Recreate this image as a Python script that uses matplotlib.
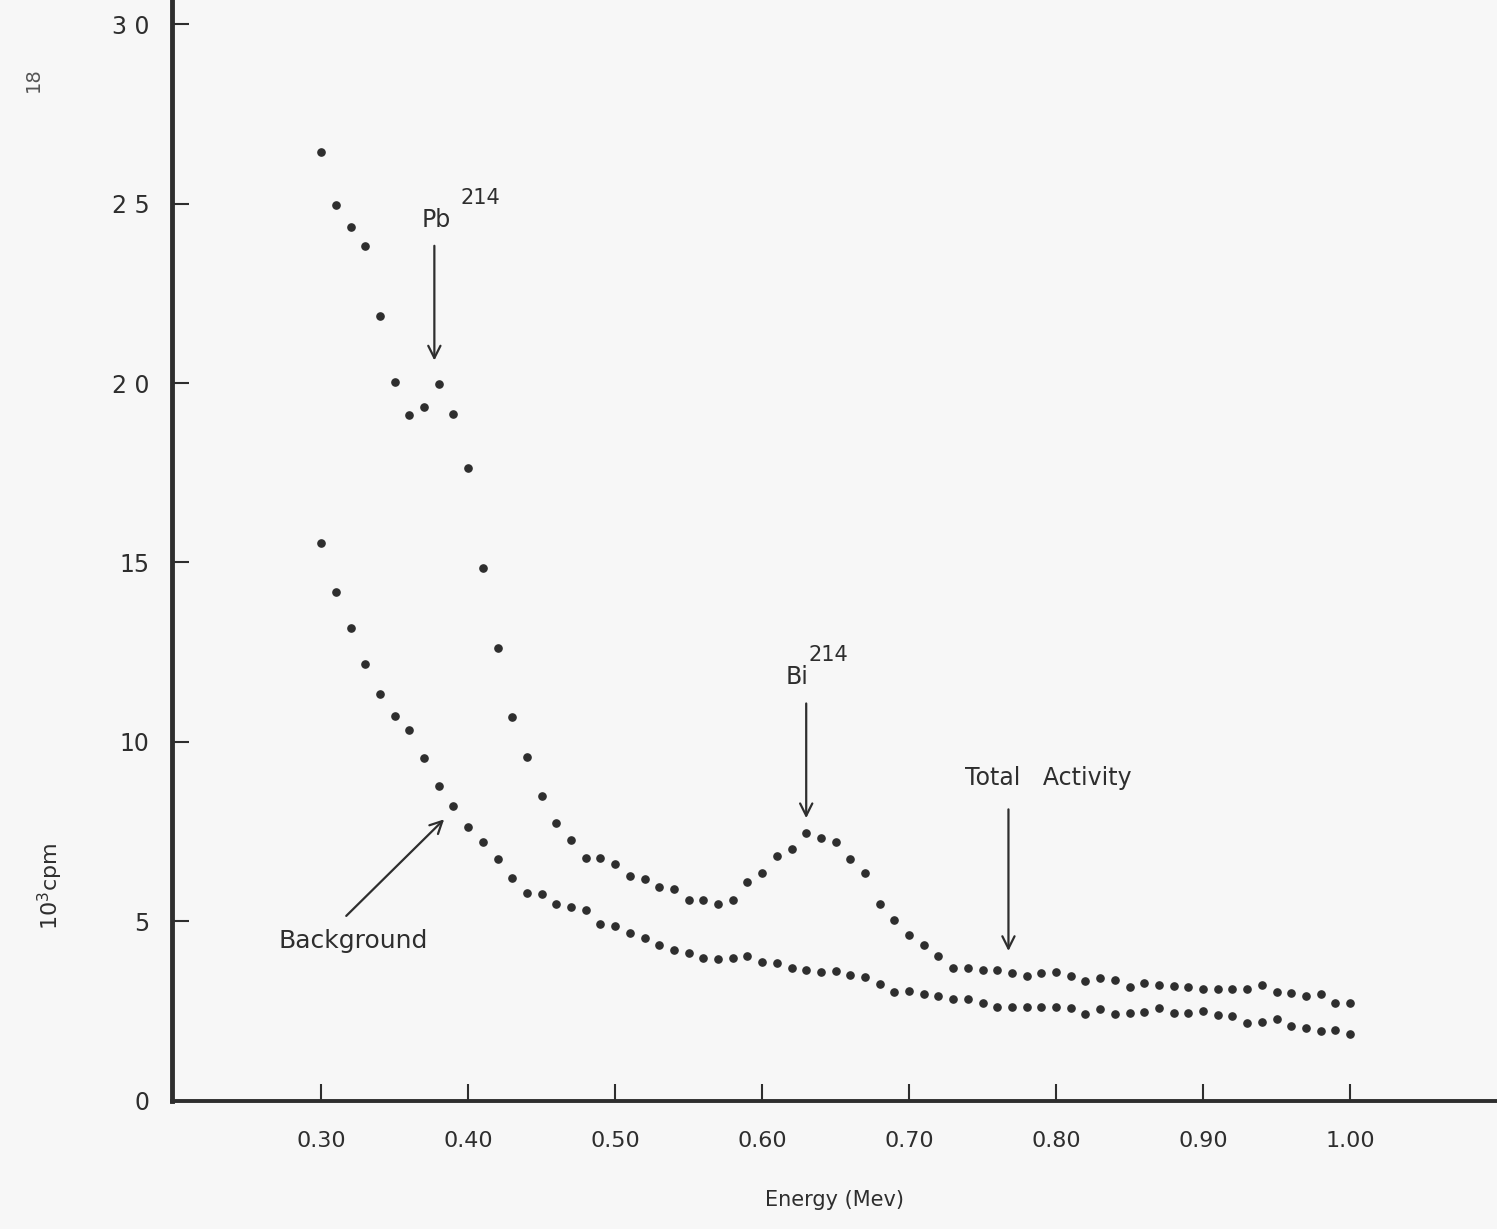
import numpy as np
import matplotlib
matplotlib.use("Agg")
from matplotlib import pyplot as plt

# energy in Mev, one reading every 0.01
energy = [0.30, 0.31, 0.32, 0.33, 0.34, 0.35, 0.36, 0.37, 0.38, 0.39,
          0.40, 0.41, 0.42, 0.43, 0.44, 0.45, 0.46, 0.47, 0.48, 0.49,
          0.50, 0.51, 0.52, 0.53, 0.54, 0.55, 0.56, 0.57, 0.58, 0.59,
          0.60, 0.61, 0.62, 0.63, 0.64, 0.65, 0.66, 0.67, 0.68, 0.69,
          0.70, 0.71, 0.72, 0.73, 0.74, 0.75, 0.76, 0.77, 0.78, 0.79,
          0.80, 0.81, 0.82, 0.83, 0.84, 0.85, 0.86, 0.87, 0.88, 0.89,
          0.90, 0.91, 0.92, 0.93, 0.94, 0.95, 0.96, 0.97, 0.98, 0.99,
          1.00]

# 10^3 cpm
total_activity = [26.43, 24.95, 24.35, 23.82, 21.87, 20.03, 19.11, 19.34, 19.97, 19.14,
                  17.64, 14.84, 12.62, 10.70, 9.57, 8.50, 7.75, 7.27, 6.76, 6.76,
                  6.61, 6.28, 6.19, 5.96, 5.91, 5.60, 5.60, 5.48, 5.60, 6.11,
                  6.36, 6.83, 7.01, 7.46, 7.32, 7.20, 6.75, 6.36, 5.49, 5.04,
                  4.62, 4.35, 4.03, 3.70, 3.70, 3.65, 3.65, 3.56, 3.48, 3.57,
                  3.58, 3.48, 3.35, 3.43, 3.37, 3.18, 3.28, 3.23, 3.21, 3.17,
                  3.13, 3.11, 3.12, 3.12, 3.24, 3.03, 3.01, 2.91, 2.97, 2.72,
                  2.72]

background = [15.53, 14.17, 13.17, 12.17, 11.34, 10.72, 10.33, 9.56, 8.77, 8.22,
              7.64, 7.20, 6.73, 6.22, 5.79, 5.77, 5.48, 5.40, 5.32, 4.93,
              4.86, 4.69, 4.55, 4.35, 4.21, 4.11, 3.99, 3.96, 3.98, 4.04,
              3.88, 3.84, 3.69, 3.66, 3.58, 3.62, 3.50, 3.46, 3.27, 3.04,
              3.07, 2.98, 2.93, 2.83, 2.83, 2.73, 2.63, 2.63, 2.63, 2.63,
              2.61, 2.60, 2.42, 2.56, 2.42, 2.44, 2.48, 2.59, 2.46, 2.46,
              2.50, 2.40, 2.37, 2.17, 2.20, 2.28, 2.08, 2.03, 1.95, 1.98,
              1.87]

xticks = [0.30, 0.40, 0.50, 0.60, 0.70, 0.80, 0.90, 1.00]
xticklabels = ["0.30", "0.40", "0.50", "0.60", "0.70", "0.80", "0.90", "1.00"]
yticks = [0, 5, 10, 15, 20, 25, 30]
yticklabels = ["0", "5", "10", "15", "2 0", "2 5", "3 0"]

ink = "#2e2e2e"
plt.rcParams["font.family"] = ["DejaVu Sans"]

fig = plt.figure(figsize=(14.97, 12.29), dpi=100, facecolor="#f7f7f7")
ax = fig.add_axes([0.1149, 0.1042, 0.8851, 0.8958])
ax.set_facecolor("none")

ax.plot(energy, total_activity, linestyle="none", marker="o", ms=5.2, color=ink)
ax.plot(energy, background, linestyle="none", marker="o", ms=5.2, color=ink)

ax.set_xlim(0.1985, 1.1)
ax.set_ylim(0, 30.67)

for s in ["top", "right"]:
    ax.spines[s].set_visible(False)
ax.spines["left"].set_linewidth(3.5)
ax.spines["bottom"].set_linewidth(2.8)
ax.spines["left"].set_color(ink)
ax.spines["bottom"].set_color(ink)

ax.set_xticks(xticks)
ax.set_xticklabels(xticklabels)
ax.set_yticks(yticks)
ax.set_yticklabels(yticklabels)
ax.tick_params(axis="x", direction="in", length=12, width=1.5, color=ink,
               labelsize=16, labelcolor=ink, pad=22)
ax.tick_params(axis="y", direction="in", length=12, width=1.5, color=ink,
               labelsize=17, labelcolor=ink, pad=16)

ax.set_xlabel("Energy (Mev)", fontsize=15, color=ink, labelpad=28)
ax.text(-0.092, 0.195, r"$\mathregular{10^3}$cpm", transform=ax.transAxes,
        rotation=90, fontsize=16, color=ink, ha="center", va="center")
fig.text(0.022, 0.935, "18", rotation=90, fontsize=14, color="#555555",
         ha="center", va="center")

arrow = dict(arrowstyle="->", color=ink, lw=1.6, mutation_scale=22)

# Pb 214 peak
ax.text(0.378, 24.54, "Pb", fontsize=17, color=ink, ha="center", va="center")
ax.text(0.408, 25.15, "214", fontsize=15, color=ink, ha="center", va="center")
ax.annotate("", xy=(0.377, 20.55), xytext=(0.377, 23.9), arrowprops=arrow)

# Bi 214 peak
ax.text(0.624, 11.81, "Bi", fontsize=17, color=ink, ha="center", va="center")
ax.text(0.645, 12.42, "214", fontsize=15, color=ink, ha="center", va="center")
ax.annotate("", xy=(0.630, 7.8), xytext=(0.630, 11.15), arrowprops=arrow)

# curve labels
ax.text(0.738, 9.0, "Total   Activity", fontsize=17, color=ink, ha="left",
        va="center")
ax.annotate("", xy=(0.7676, 4.1), xytext=(0.7676, 8.2), arrowprops=arrow)

ax.text(0.322, 4.46, "Background", fontsize=18, color=ink, ha="center",
        va="center")
ax.annotate("", xy=(0.385, 7.9), xytext=(0.3157, 5.1), arrowprops=arrow)

fig.savefig("out.png", dpi=100, facecolor=fig.get_facecolor())
